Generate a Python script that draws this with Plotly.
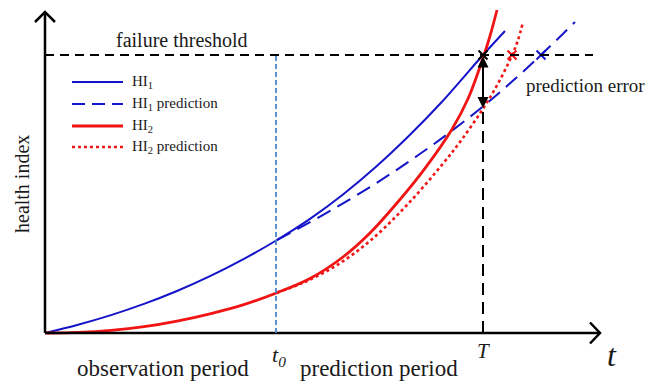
import plotly.graph_objects as go

# ---- data (time axis t, health index y; arbitrary units) ----
hi1_t = [0, 3.3, 6.6, 9.9, 13.2, 16.5, 19.8, 23.2, 26.5, 29.8, 33.1, 36.4, 39.7, 43.8, 46.0]
hi1_y = [0, 0.83, 1.79, 2.91, 4.20, 5.68, 7.36, 9.30, 11.41, 13.85, 16.62, 19.72, 23.12, 27.8, 30.2]

hi1p_t = [23.2, 26.5, 29.8, 33.1, 36.4, 39.7, 43.8, 46.7, 49.6, 53.0]
hi1p_y = [9.30, 11.08, 12.96, 14.97, 17.15, 19.49, 22.65, 25.14, 27.8, 31.1]

hi2_t = [0, 3.3, 6.6, 9.9, 13.2, 16.5, 19.8, 23.2, 26.5, 29.8, 32.5, 35.2, 38.0, 40.7, 42.3, 43.9, 44.5, 45.2]
hi2_y = [0, 0.07, 0.27, 0.63, 1.19, 1.92, 2.81, 4.03, 5.45, 7.60, 10.00, 13.00, 16.47, 20.38, 23.42, 27.8, 29.7, 32.3]

hi2p_t = [23.2, 25.8, 29.2, 32.7, 36.3, 39.7, 41.7, 43.8, 45.3, 46.7, 47.3, 47.8]
hi2p_y = [4.03, 5.02, 6.79, 9.38, 12.91, 16.82, 19.38, 22.43, 24.95, 27.75, 29.3, 31.1]

threshold = 27.8
t0 = 23.1
T = 43.8
pred_at_T = 22.5
cross_t = [43.8, 46.7, 49.6]  # actual, HI2 prediction, HI1 prediction crossings
t_end = 55.5
y_end = 32.1

BLUE = "#1414c8"
RED = "#f01414"
T0C = "#4a86c8"
TXT = "#1a1a1a"
FONT = "Liberation Serif"

fig = go.Figure()

fig.add_trace(go.Scatter(x=hi1_t, y=hi1_y, mode="lines", line=dict(color=BLUE, width=2, shape="spline")))
fig.add_trace(go.Scatter(x=hi1p_t, y=hi1p_y, mode="lines", line=dict(color=BLUE, width=2, dash="15px,8px", shape="spline")))
fig.add_trace(go.Scatter(x=hi2_t, y=hi2_y, mode="lines", line=dict(color=RED, width=2.8, shape="spline")))
fig.add_trace(go.Scatter(x=hi2p_t, y=hi2p_y, mode="lines", line=dict(color=RED, width=2.6, dash="3px,3px", shape="spline")))

# crossing markers
fig.add_trace(go.Scatter(x=cross_t, y=[threshold] * 3, mode="markers",
                         marker=dict(symbol="x-thin", size=9, line=dict(width=2, color=["#000000", RED, BLUE]))))

shapes = []
# axes
shapes.append(dict(type="line", x0=0, y0=0, x1=t_end, y1=0, line=dict(color="black", width=2.5)))
shapes.append(dict(type="line", x0=0, y0=0, x1=0, y1=y_end, line=dict(color="black", width=2.5)))
shapes.append(dict(type="path", path=f"M {t_end-1.0},1.05 L {t_end},0 L {t_end-1.0},-1.05", line=dict(color="black", width=2.5)))
shapes.append(dict(type="path", path=f"M -1.0,{y_end-1.0} L 0,{y_end} L 1.0,{y_end-1.0}", line=dict(color="black", width=2.5)))
# threshold
shapes.append(dict(type="line", x0=0, y0=threshold, x1=54.8, y1=threshold, line=dict(color="black", width=2.2, dash="9px,6px")))
# t0 line
shapes.append(dict(type="line", x0=t0, y0=0, x1=t0, y1=threshold, line=dict(color=T0C, width=1.8, dash="5px,3px")))
# T line
shapes.append(dict(type="line", x0=T, y0=0, x1=T, y1=pred_at_T, line=dict(color="black", width=2, dash="12px,7px")))

# legend samples
leg_y = [25.1, 22.9, 20.7, 18.6]
leg_styles = [(BLUE, 2, "solid"), (BLUE, 2, "13px,7px"), (RED, 2.8, "solid"), (RED, 2.6, "3px,3px")]
leg_labels = ["HI<sub>1</sub>", "HI<sub>1</sub> prediction", "HI<sub>2</sub>", "HI<sub>2</sub> prediction"]
for yy, (c, w, d) in zip(leg_y, leg_styles):
    shapes.append(dict(type="line", x0=2.7, y0=yy, x1=7.8, y1=yy, line=dict(color=c, width=w, dash=d)))

ann = []
for yy, lab in zip(leg_y, leg_labels):
    ann.append(dict(x=8.5, y=yy, text=lab, showarrow=False, xanchor="left", yanchor="middle",
                    font=dict(family=FONT, size=15, color=TXT)))

ann.append(dict(x=13.65, y=29.3, text="failure threshold", showarrow=False,
                font=dict(family=FONT, size=20, color=TXT)))
ann.append(dict(x=54.0, y=24.8, text="prediction error", showarrow=False,
                font=dict(family=FONT, size=19, color=TXT)))
ann.append(dict(x=-2.3, y=14.9, text="health index", showarrow=False, textangle=-90,
                font=dict(family=FONT, size=20, color=TXT)))
ann.append(dict(x=11.75, y=-3.5, text="observation period", showarrow=False,
                font=dict(family=FONT, size=23, color=TXT)))
ann.append(dict(x=33.4, y=-3.5, text="prediction period", showarrow=False,
                font=dict(family=FONT, size=23, color=TXT)))
ann.append(dict(x=t0 + 0.3, y=-2.3, text="<i>t<sub>0</sub></i>", showarrow=False,
                font=dict(family=FONT, size=22, color=TXT)))
ann.append(dict(x=T, y=-1.8, text="<i>T</i>", showarrow=False,
                font=dict(family=FONT, size=21, color=TXT)))
ann.append(dict(x=56.7, y=-2.2, text="<i>t</i>", showarrow=False,
                font=dict(family=FONT, size=32, color=TXT)))
# prediction error double arrow
ann.append(dict(x=T, y=pred_at_T, ax=T, ay=threshold, axref="x", ayref="y", xref="x", yref="y",
                text="", showarrow=True, arrowside="end+start", arrowhead=2, arrowsize=1.1,
                arrowwidth=2, arrowcolor="black"))

fig.update_layout(
    width=661, height=384,
    margin=dict(l=0, r=0, t=0, b=0),
    paper_bgcolor="white", plot_bgcolor="white",
    showlegend=False,
    xaxis=dict(range=[-4.5, 61.6], visible=False, fixedrange=True),
    yaxis=dict(range=[-5.1, 33.3], visible=False, fixedrange=True),
    shapes=shapes, annotations=ann,
)

fig.write_html("out.html")
